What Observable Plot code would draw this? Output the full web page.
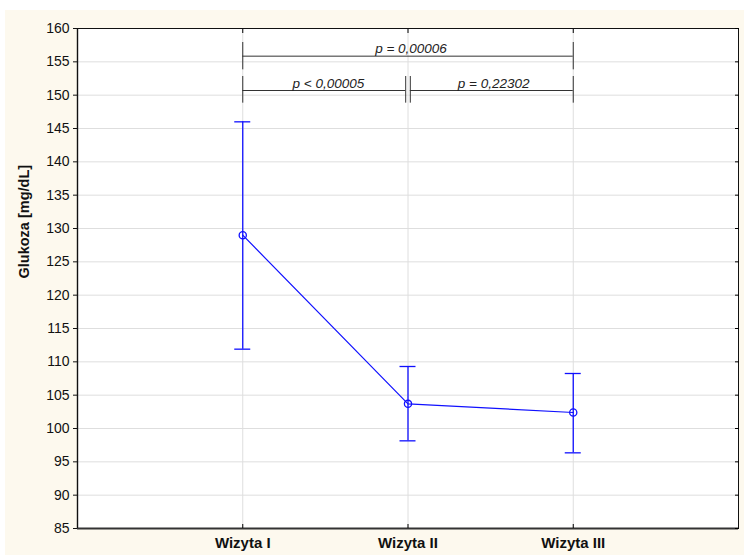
<!DOCTYPE html>
<html>
<head>
<meta charset="utf-8">
<script src="https://cdn.jsdelivr.net/npm/d3@7"></script>
<script src="https://cdn.jsdelivr.net/npm/@observablehq/plot@0.6"></script>
<style>
  html, body { margin: 0; padding: 0; background: #ffffff; }
  #wrap { position: relative; width: 744px; height: 555px; overflow: hidden; }
  #bg { position: absolute; left: 5px; top: 10px; right: 0; bottom: 0; background: #fdf9ee; }
  #chart { position: absolute; left: 0; top: 0; }
</style>
</head>
<body>
<div id="wrap"><div id="bg"></div><div id="chart"></div></div>
<script>
// ---- data ----
const visits = ["Wizyta I", "Wizyta II", "Wizyta III"];
const means  = [129.0, 103.7, 102.4];
const lower  = [111.9, 98.15, 96.35];
const upper  = [146.0, 109.3, 108.25];

const yTicks = [85, 90, 95, 100, 105, 110, 115, 120, 125, 130, 135, 140, 145, 150, 155, 160];

const bracketFrom   = ["Wizyta I", "Wizyta I", "Wizyta II"];
const bracketTo     = ["Wizyta III", "Wizyta II", "Wizyta III"];
const bracketY      = [155.85, 150.7, 150.7];
const bracketTickLo = [153.8, 148.8, 148.8];
const bracketTickHi = [157.9, 152.8, 152.8];
const bracketLabels = ["p = 0,00006", "p < 0,00005", "p = 0,22302"];

const pos = v => visits.indexOf(v);
const rows = visits.map((v, i) => ({i, visit: v, mean: means[i], lo: lower[i], hi: upper[i]}));
const brackets = bracketFrom.map((f, k) => ({
  k, a: pos(f), b: pos(bracketTo[k]), mid: (pos(f) + pos(bracketTo[k])) / 2,
  y: bracketY[k], lo: bracketTickLo[k], hi: bracketTickHi[k], label: bracketLabels[k]
}));

const blue = "#1010ff";
const font = "Liberation Sans, Arial, sans-serif";
const xIdx = visits.map((v, i) => i);

const bracketMarks = [];
brackets.forEach(d => {
  const gapL = (d.a === 1) ? 2.3 : 0;   // double bar at Wizyta II
  const gapR = (d.b === 1) ? 2.3 : 0;
  bracketMarks.push(
    Plot.ruleY([d], {y: "y", x1: "a", x2: "b", insetLeft: gapL, insetRight: gapR, stroke: "#333", strokeWidth: 1}),
    Plot.ruleX([d], {x: "a", y1: "lo", y2: "hi", dx: gapL, stroke: "#333", strokeWidth: 1}),
    Plot.ruleX([d], {x: "b", y1: "lo", y2: "hi", dx: -gapR, stroke: "#333", strokeWidth: 1})
  );
});

const chart = Plot.plot({
  width: 744,
  height: 555,
  marginLeft: 77,
  marginTop: 28,
  marginRight: 6,
  marginBottom: 27,
  style: {background: "transparent", fontFamily: font},
  x: {domain: [-1, visits.length]},
  y: {domain: [85, 160]},
  marks: [
    Plot.frame({fill: "white", stroke: "none"}),
    Plot.ruleY(yTicks.slice(1, -1), {stroke: "#dedede", strokeWidth: 1}),
    Plot.ruleX(xIdx, {stroke: "#dedede", strokeWidth: 1}),
    // error bars
    Plot.ruleX(rows, {x: "i", y1: "lo", y2: "hi", stroke: blue, strokeWidth: 1.3}),
    Plot.ruleY(rows, {x1: "i", x2: "i", y: "lo", insetLeft: -8, insetRight: -8, stroke: blue, strokeWidth: 1.3}),
    Plot.ruleY(rows, {x1: "i", x2: "i", y: "hi", insetLeft: -8, insetRight: -8, stroke: blue, strokeWidth: 1.3}),
    Plot.line(rows, {x: "i", y: "mean", stroke: blue, strokeWidth: 1.2}),
    Plot.dot(rows, {x: "i", y: "mean", r: 3.6, stroke: blue, strokeWidth: 1.3, fill: "none"}),
    // significance brackets
    ...bracketMarks,
    Plot.text(brackets, {x: "mid", y: "y", text: "label", fontStyle: "italic", fontSize: 13.5, fill: "#222",
      lineAnchor: "bottom", dy: -3, dx: 3}),
    // frame & axes
    Plot.frame({stroke: "#111", strokeWidth: 1}),
    Plot.ruleY([85], {stroke: "#333", strokeWidth: 1.8}),
    Plot.ruleX([-1], {stroke: "#111", strokeWidth: 1.4}),
    Plot.axisY({ticks: yTicks, tickSize: 4, tickPadding: 4, fontSize: 14, label: null, color: "#111"}),
    Plot.axisY({anchor: "right", ticks: yTicks, tickSize: -4, tickFormat: () => "", label: null}),
    Plot.axisX({ticks: xIdx, tickFormat: i => visits[i], tickSize: 0, tickPadding: 9, fontSize: 15, fontWeight: "bold", label: null, color: "#111"}),
    Plot.axisX({ticks: xIdx, tickSize: -4, tickFormat: () => "", label: null}),
    Plot.axisX({anchor: "top", ticks: xIdx, tickSize: -4, tickFormat: () => "", label: null}),
    Plot.text(["Glukoza [mg/dL]"], {frameAnchor: "left", rotate: -90, dx: -53, fontWeight: "bold", fontSize: 14.5, fill: "#111"})
  ]
});
document.getElementById("chart").appendChild(chart);
</script>
</body>
</html>
